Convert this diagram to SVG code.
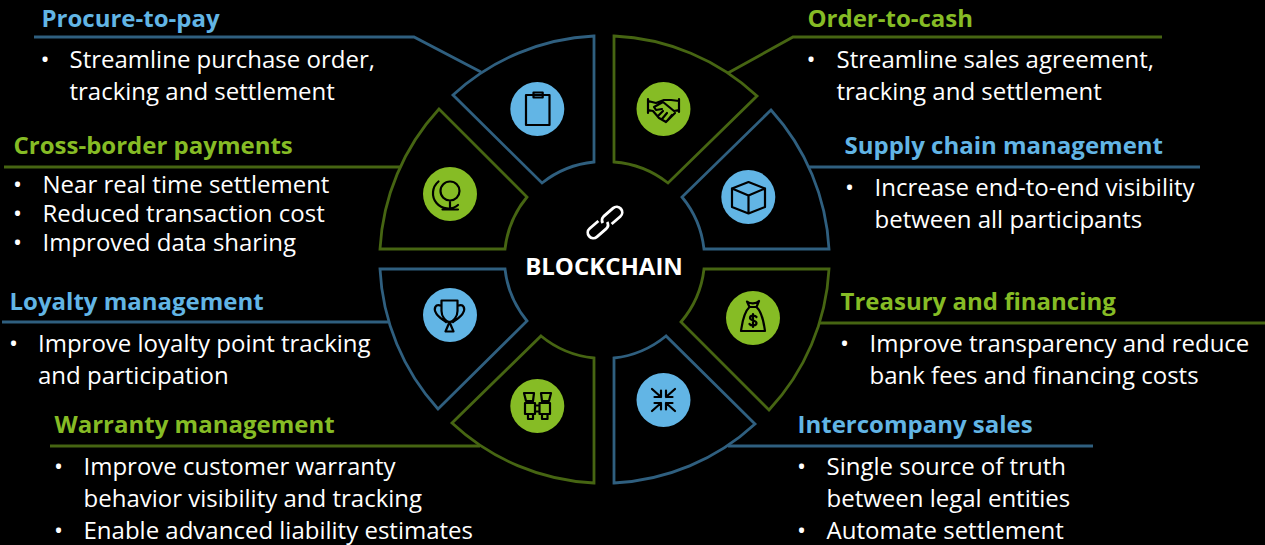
<svg xmlns="http://www.w3.org/2000/svg" width="1265" height="545" viewBox="0 0 1265 545">
<style>
text{font-family:"Open Sans","Liberation Sans",sans-serif}
.t{font-size:24px;font-weight:700}
.b{font-size:24px;fill:#fff}
.tb{fill:#62b5e5}.tg{fill:#86bc25}
.sb{fill:#000;stroke:#2f5f7f;stroke-width:2.8}
.sg{fill:#000;stroke:#466512;stroke-width:2.8}
.lb{fill:none;stroke:#2f5f7f;stroke-width:2.8}
.lg{fill:none;stroke:#466512;stroke-width:2.8}
.cb{fill:#62b5e5}.cg{fill:#86bc25}
.i{fill:none;stroke:#000;stroke-width:2.2;stroke-linejoin:round;stroke-linecap:round}
</style>
<rect width="1265" height="545" fill="#000"/>
<g id="connectors">
<path class="lb" d="M34 37H414L481 72"/>
<path class="lg" d="M1162 37H793L728 73"/>
<path class="lg" d="M4 167H400"/>
<path class="lb" d="M1200 167H809"/>
<path class="lb" d="M2 322H388"/>
<path class="lg" d="M1265 323H820"/>
<path class="lg" d="M50 446H480"/>
<path class="lb" d="M1093 446H728"/>
</g>
<g id="center">
<g fill="none" stroke="#fff" stroke-width="2.8" transform="translate(605 222.500) rotate(-41)">
<path d="M-4 -5.500H-15.500A5.500 5.500 0 0 0 -15.500 5.500H-3A5.500 5.500 0 0 0 2 1"/>
<path d="M4 5.500H15.500A5.500 5.500 0 0 0 15.500 -5.500H3A5.500 5.500 0 0 0 -2 -1"/>
</g>
<text x="604" y="275" text-anchor="middle" font-size="24" font-weight="700" fill="#fff">BLOCKCHAIN</text>
</g>
<g id="procure">
<path class="sb" d="M594 36V162A99 99 0 0 0 542 183L453 95A224 224 0 0 1 594 36Z"/>
<circle class="cb" cx="537.300" cy="109" r="27"/>
<path class="i" d="M526 95H549.500V125H526ZM533.500 95V92.500H542.700V97.500H533.500Z"/>
<text class="t tb" x="41.500" y="27">Procure-to-pay</text>
<text class="b" x="40.500" y="68">•</text><text class="b" x="69.500" y="68">Streamline purchase order,</text>
<text class="b" x="69.500" y="100">tracking and settlement</text>
</g>
<g id="order">
<path class="sg" d="M614 36V162A99 99 0 0 1 668 183L757 96A224 224 0 0 0 614 36Z"/>
<circle class="cg" cx="663.500" cy="109" r="27"/>
<path class="i" d="M648 99V113M679 99V112M648 101L656 103L664 100L671 100L679 101M679 110L674 111L663 102L654 107L656 110L662 109M648 110L653 111L659 118L666 122L675 113M658 116L663 111M662 119L667 113M667 121L672 115"/>
<text class="t tg" x="807.500" y="27">Order-to-cash</text>
<text class="b" x="806.500" y="68">•</text><text class="b" x="836.500" y="68">Streamline sales agreement,</text>
<text class="b" x="836.500" y="100">tracking and settlement</text>
</g>
<g id="crossborder">
<path class="sg" d="M439 109A224 224 0 0 0 380 249H505A99 99 0 0 1 527 197Z"/>
<circle class="cg" cx="450" cy="194" r="27"/>
<g class="i"><circle cx="450" cy="191" r="9.500"/><path d="M438.500 181.500A15 15 0 0 0 458 205M450 202V209.500M442.500 209.500H458"/></g>
<text class="t tg" x="13.500" y="154">Cross-border payments</text>
<text class="b" x="13" y="193">•</text><text class="b" x="42.500" y="193">Near real time settlement</text>
<text class="b" x="13" y="222">•</text><text class="b" x="42.500" y="222">Reduced transaction cost</text>
<text class="b" x="13" y="251">•</text><text class="b" x="42.500" y="251">Improved data sharing</text>
</g>
<g id="supply">
<path class="sb" d="M771 110A224 224 0 0 1 829 249H704A99 99 0 0 0 682 197Z"/>
<circle class="cb" cx="748.300" cy="197" r="27"/>
<path class="i" d="M748.500 182L765 188.500V207L748.500 213.500L732 207V188.500ZM732 188.500L748.500 195.500L765 188.500M748.500 195.500V213.500"/>
<text class="t tb" x="844.500" y="154">Supply chain management</text>
<text class="b" x="845" y="196">•</text><text class="b" x="874.500" y="196">Increase end-to-end visibility</text>
<text class="b" x="874.500" y="228">between all participants</text>
</g>
<g id="loyalty">
<path class="sb" d="M380 269A224 224 0 0 0 438 409L527 321A99 99 0 0 1 505 269Z"/>
<circle class="cb" cx="450" cy="315" r="27"/>
<path class="i" d="M441.500 300.500H457.500V311C457.500 317 453 322 449.500 322C446 322 441.500 317 441.500 311ZM441.500 306C435 303 433.500 309 436 313C438 317 442 319 446 322M457.500 306C464 303 465.500 309 463 313C461 317 457 319 453 322M449.500 322L445.500 331.500H453.500Z"/>
<text class="t tb" x="9.500" y="310">Loyalty management</text>
<text class="b" x="9" y="352">•</text><text class="b" x="38" y="352">Improve loyalty point tracking</text>
<text class="b" x="38" y="384">and participation</text>
</g>
<g id="treasury">
<path class="sg" d="M829 269A224 224 0 0 1 769 410L681 322A99 99 0 0 0 704 269Z"/>
<circle class="cg" cx="753" cy="318" r="27"/>
<path class="i" d="M747 301.500C750 304 756 304 759 301L756.500 307H749.500ZM749.500 307C743 313 742 325 741 331H765C764 325 763 313 756.500 307"/>
<path class="i" d="M756.500 317C755 315 750 315 750 318C750 321 756.500 320 756.500 323C756.500 326 751 326 749.500 324M753 314V327"/>
<text class="t tg" x="840.500" y="310">Treasury and financing</text>
<text class="b" x="840" y="352">•</text><text class="b" x="869.500" y="352">Improve transparency and reduce</text>
<text class="b" x="869.500" y="384">bank fees and financing costs</text>
</g>
<g id="warranty">
<path class="sg" d="M594 358A99 99 0 0 1 541 336L452 423A224 224 0 0 0 594 483Z"/>
<circle class="cg" cx="537.300" cy="406" r="27"/>
<path class="i" d="M524 393H534L533 401H526ZM541 393H551L549 401H542ZM525 403H535V414H525ZM539.500 403H550V414H539.500ZM535 405.500H539.500M535 411.500H539.500M528 414V419H533V414M542 414V419H547.500V414"/>
<text class="t tg" x="54.500" y="433">Warranty management</text>
<text class="b" x="54" y="475">•</text><text class="b" x="83.500" y="475">Improve customer warranty</text>
<text class="b" x="83.500" y="507">behavior visibility and tracking</text>
<text class="b" x="54" y="539">•</text><text class="b" x="83.500" y="539">Enable advanced liability estimates</text>
</g>
<g id="intercompany">
<path class="sb" d="M614 358A99 99 0 0 0 666 336L755 424A224 224 0 0 1 614 483Z"/>
<circle class="cb" cx="663.500" cy="400" r="27"/>
<path class="i" d="M652 389L661 397M661 390.500V397H654.500M675 389L666 397M666 390.500V397H672.500M652 411L661 403M661 409.500V403H654.500M675 411L666 403M666 409.500V403H672.500"/>
<text class="t tb" x="797.500" y="433">Intercompany sales</text>
<text class="b" x="797" y="475">•</text><text class="b" x="826.500" y="475">Single source of truth</text>
<text class="b" x="826.500" y="507">between legal entities</text>
<text class="b" x="797" y="539">•</text><text class="b" x="826.500" y="539">Automate settlement</text>
</g>
</svg>
